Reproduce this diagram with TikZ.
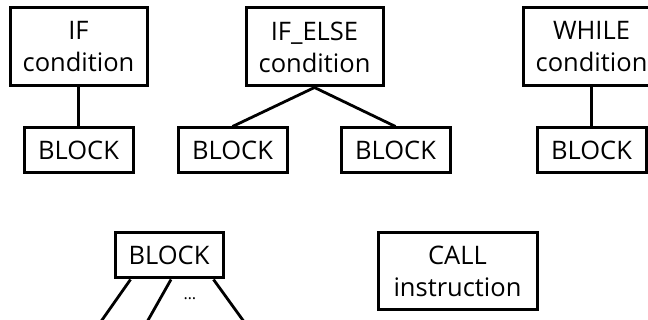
\documentclass[tikz,border=0pt]{standalone}
\usepackage{fontspec}
\setmainfont{Open Sans}
\begin{document}
\begin{tikzpicture}[x=1pt,y=-1pt,
  every node/.style={font=\fontsize{25.5}{32}\selectfont},
  box/.style={draw,line width=3pt,inner sep=0pt,align=center,minimum width=137pt,minimum height=78pt},
  blockbox/.style={draw,line width=3pt,inner sep=0pt,minimum width=109pt,minimum height=45pt},
  edge/.style={line width=2.8pt}]
\clip (0,0) rectangle (648,320);
\useasboundingbox (0,0) rectangle (648,320);

% IF statement
\node[box] (if) at (78.5,47) {IF\\condition};
\node[blockbox] (ifb) at (78.5,150.5) {BLOCK};
\draw[edge] (if.south) -- (ifb.north);

% IF_ELSE statement
\node[box] (ife) at (314.5,47) {IF\_ELSE\\condition};
\node[blockbox] (ifel) at (232.5,150.5) {BLOCK};
\node[blockbox] (ifer) at (395.5,150.5) {BLOCK};
\draw[edge] (ifel.north) -- (ife.south) -- (ifer.north);

% WHILE statement
\node[box] (wh) at (591.5,47) {WHILE\\condition};
\node[blockbox] (whb) at (591.5,150.5) {BLOCK};
\draw[edge] (wh.south) -- (whb.north);

% BLOCK with its children
\node[blockbox,minimum width=108pt] (blk) at (169,255.5) {BLOCK};
\coordinate (c1) at (95,330);
\coordinate (c2) at (142.5,330);
\coordinate (c3) at (250,330);
\draw[edge] (blk.south west) ++(17,0) coordinate (s1) -- (c1);
\draw[edge] (blk.south) ++(2,0) coordinate (s2) -- (c2);
\draw[edge] (blk.south east) ++(-11,0) coordinate (s3) -- (c3);
\node[font=\fontsize{16}{18}\selectfont] (dots) at (190,299) {\ldots};

% CALL
\node[box,minimum width=159pt,minimum height=77pt] (call) at (457.5,271.5) {CALL\\instruction};
\end{tikzpicture}
\end{document}
